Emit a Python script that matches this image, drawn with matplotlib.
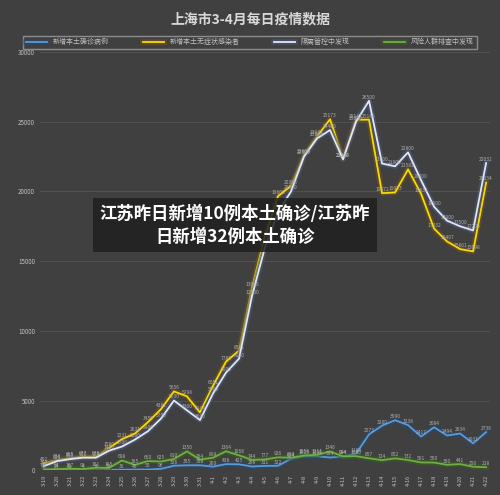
import matplotlib
matplotlib.use("Agg")
from matplotlib import pyplot as plt
import matplotlib.patheffects as pe

plt.rcParams['font.family'] = ['Noto Sans CJK SC', 'DejaVu Sans']

dates = ["3-19", "3-20", "3-21", "3-22", "3-23", "3-24", "3-25", "3-26", "3-27", "3-28",
         "3-29", "3-30", "3-31", "4-1", "4-2", "4-3", "4-4", "4-5", "4-6", "4-7", "4-8",
         "4-9", "4-10", "4-11", "4-12", "4-13", "4-14", "4-15", "4-16", "4-17", "4-18",
         "4-19", "4-20", "4-21", "4-22"]
confirmed = [17, 24, 31, 4, 4, 29, 38, 45, 50, 96, 326, 355, 358, 260, 438, 425, 268, 311,
             322, 824, 1015, 1006, 914, 994, 1189, 2573, 3200, 3590, 3238, 2417, 3084, 2494,
             2634, 1931, 2736]
asymptomatic = [492, 734, 865, 977, 979, 1580, 2231, 2631, 3450, 4381, 5656, 5298, 4144,
                6051, 7788, 8581, 13086, 16766, 19660, 20398, 22609, 23937, 25173, 22348,
                25141, 25146, 19872, 19923, 21582, 19831, 17332, 16407, 15861, 15698, 20634]
quarantine = [300, 650, 800, 900, 900, 1400, 1700, 2200, 2800, 3700, 5000, 4300, 3600, 5500,
              7000, 8000, 12500, 16000, 18500, 20000, 22500, 23800, 24400, 22300, 25000,
              26500, 22000, 21800, 22800, 20800, 18900, 17900, 17500, 17200, 22032]
screening = [60, 84, 107, 90, 181, 165, 698, 385, 660, 625, 810, 1350, 764, 899, 1364, 1068,
             744, 777, 926, 899, 1058, 1111, 1346, 994, 1010, 857, 724, 852, 732, 561, 550,
             390, 441, 250, 218]
names = ["新增本土确诊病例", "新增本土无症状感染者", "隔离管控中发现", "风险人群排查中发现"]

bg = "#404040"
fig = plt.figure(figsize=(5, 4.95), dpi=100, facecolor=bg)
ax = fig.add_axes([0.08, 0.05, 0.9, 0.845], facecolor=bg)
x = range(len(dates))

series = [(confirmed, "#5b9bd5", "#2a4a70"), (asymptomatic, "#f0e000", "#7a5020"),
          (quarantine, "#e6e6f0", "#4a5a80"), (screening, "#70ad47", "#3a6020")]
for (vals, c, glow), name in zip(series, names):
    ax.plot(x, vals, color=c, lw=1.3, label=name,
            path_effects=[pe.Stroke(linewidth=4, foreground=glow, alpha=0.6), pe.Normal()])
    for i, v in enumerate(vals):
        ax.text(i, v + 150, str(v), fontsize=3.5, color="#b0b0b0", ha="center")

ax.set_ylim(0, 30000)
ax.set_xlim(-0.3, len(dates) - 0.7)
ax.set_yticks(range(0, 30001, 5000))
ax.set_xticks(list(x))
ax.set_xticklabels(dates, rotation=90, fontsize=4, color="#c0c0c0")
ax.tick_params(axis="y", labelsize=4.5, colors="#c0c0c0", length=0)
ax.tick_params(axis="x", length=0)
ax.grid(axis="y", color="#555555", lw=0.6)
for s in ax.spines.values():
    s.set_visible(False)

fig.suptitle("上海市3-4月每日疫情数据", color="#d8d8d8", fontsize=10, y=0.975, fontweight="bold")
leg = fig.legend(loc="upper center", bbox_to_anchor=(0.5, 0.935), ncol=4, fontsize=5,
                 frameon=True, facecolor=bg, edgecolor="#a0a0a0", labelcolor="#c0c0c0",
                 handlelength=3, columnspacing=5, fancybox=False)

fig.text(0.47, 0.545, "江苏昨日新增10例本土确诊/江苏昨\n日新增32例本土确诊", color="white",
         fontsize=12.5, fontweight="bold", ha="center", va="center", linespacing=1.3,
         bbox=dict(boxstyle="square,pad=0.4", facecolor="#202020", alpha=0.85, edgecolor="none"))

fig.savefig("out.png", dpi=100, facecolor=bg)
